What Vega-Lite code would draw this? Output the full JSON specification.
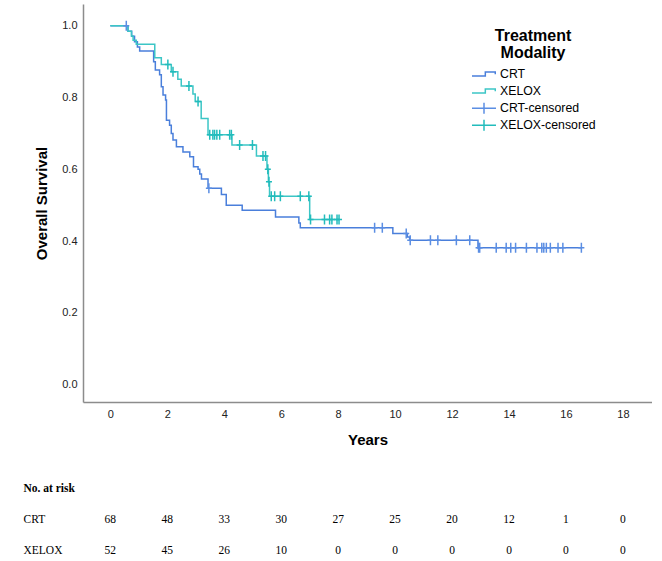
{
  "$schema": "https://vega.github.io/schema/vega-lite/v6.json",
  "padding": {"left": 23, "top": 4, "right": 0, "bottom": 0},
  "background": "white",
  "config": {
    "view": {"stroke": null},
    "font": "Liberation Sans"
  },
  "datasets": {
    "curve": [
      {"g": "CRT", "t": 0, "s": 1},
      {"g": "CRT", "t": 0.62, "s": 0.985},
      {"g": "CRT", "t": 0.75, "s": 0.971},
      {"g": "CRT", "t": 0.85, "s": 0.956},
      {"g": "CRT", "t": 0.95, "s": 0.941},
      {"g": "CRT", "t": 1.03, "s": 0.93},
      {"g": "CRT", "t": 1.52, "s": 0.9},
      {"g": "CRT", "t": 1.58, "s": 0.877},
      {"g": "CRT", "t": 1.73, "s": 0.864},
      {"g": "CRT", "t": 1.79, "s": 0.83},
      {"g": "CRT", "t": 1.85, "s": 0.807},
      {"g": "CRT", "t": 1.94, "s": 0.793},
      {"g": "CRT", "t": 1.97, "s": 0.737},
      {"g": "CRT", "t": 2.08, "s": 0.723},
      {"g": "CRT", "t": 2.14, "s": 0.7},
      {"g": "CRT", "t": 2.2, "s": 0.682},
      {"g": "CRT", "t": 2.32, "s": 0.663},
      {"g": "CRT", "t": 2.55, "s": 0.648},
      {"g": "CRT", "t": 2.79, "s": 0.635},
      {"g": "CRT", "t": 2.92, "s": 0.607},
      {"g": "CRT", "t": 3.08, "s": 0.6},
      {"g": "CRT", "t": 3.14, "s": 0.587},
      {"g": "CRT", "t": 3.2, "s": 0.573},
      {"g": "CRT", "t": 3.43, "s": 0.547},
      {"g": "CRT", "t": 3.9, "s": 0.53},
      {"g": "CRT", "t": 4.07, "s": 0.5},
      {"g": "CRT", "t": 4.63, "s": 0.486},
      {"g": "CRT", "t": 5.8, "s": 0.467},
      {"g": "CRT", "t": 6.62, "s": 0.45},
      {"g": "CRT", "t": 6.67, "s": 0.437},
      {"g": "CRT", "t": 9.92, "s": 0.421},
      {"g": "CRT", "t": 10.43, "s": 0.411},
      {"g": "CRT", "t": 10.51, "s": 0.402},
      {"g": "CRT", "t": 12.91, "s": 0.381},
      {"g": "CRT", "t": 16.54, "s": 0.381},
      {"g": "XELOX", "t": 0, "s": 1},
      {"g": "XELOX", "t": 0.62, "s": 0.985},
      {"g": "XELOX", "t": 0.74, "s": 0.972},
      {"g": "XELOX", "t": 0.8, "s": 0.96},
      {"g": "XELOX", "t": 0.91, "s": 0.949},
      {"g": "XELOX", "t": 1.56, "s": 0.911},
      {"g": "XELOX", "t": 1.79, "s": 0.892},
      {"g": "XELOX", "t": 2.14, "s": 0.872},
      {"g": "XELOX", "t": 2.37, "s": 0.851},
      {"g": "XELOX", "t": 2.49, "s": 0.832},
      {"g": "XELOX", "t": 2.9, "s": 0.81},
      {"g": "XELOX", "t": 2.98, "s": 0.789},
      {"g": "XELOX", "t": 3.19, "s": 0.742},
      {"g": "XELOX", "t": 3.43, "s": 0.696},
      {"g": "XELOX", "t": 4.27, "s": 0.668},
      {"g": "XELOX", "t": 5.13, "s": 0.637},
      {"g": "XELOX", "t": 5.5, "s": 0.6},
      {"g": "XELOX", "t": 5.55, "s": 0.565},
      {"g": "XELOX", "t": 5.59, "s": 0.525},
      {"g": "XELOX", "t": 7.0, "s": 0.46},
      {"g": "XELOX", "t": 8.03, "s": 0.46}
    ],
    "censor": [
      {"g": "CRT-censored", "t": 0.56, "s": 1},
      {"g": "CRT-censored", "t": 3.46, "s": 0.547},
      {"g": "CRT-censored", "t": 9.28, "s": 0.437},
      {"g": "CRT-censored", "t": 9.55, "s": 0.437},
      {"g": "CRT-censored", "t": 10.39, "s": 0.421},
      {"g": "CRT-censored", "t": 10.53, "s": 0.402},
      {"g": "CRT-censored", "t": 11.24, "s": 0.402},
      {"g": "CRT-censored", "t": 11.5, "s": 0.402},
      {"g": "CRT-censored", "t": 12.15, "s": 0.402},
      {"g": "CRT-censored", "t": 12.62, "s": 0.402},
      {"g": "CRT-censored", "t": 12.93, "s": 0.381},
      {"g": "CRT-censored", "t": 12.97, "s": 0.381},
      {"g": "CRT-censored", "t": 13.55, "s": 0.381},
      {"g": "CRT-censored", "t": 13.9, "s": 0.381},
      {"g": "CRT-censored", "t": 14.06, "s": 0.381},
      {"g": "CRT-censored", "t": 14.23, "s": 0.381},
      {"g": "CRT-censored", "t": 14.61, "s": 0.381},
      {"g": "CRT-censored", "t": 14.98, "s": 0.381},
      {"g": "CRT-censored", "t": 15.15, "s": 0.381},
      {"g": "CRT-censored", "t": 15.22, "s": 0.381},
      {"g": "CRT-censored", "t": 15.31, "s": 0.381},
      {"g": "CRT-censored", "t": 15.45, "s": 0.381},
      {"g": "CRT-censored", "t": 15.72, "s": 0.381},
      {"g": "CRT-censored", "t": 15.89, "s": 0.381},
      {"g": "CRT-censored", "t": 16.54, "s": 0.381},
      {"g": "XELOX-censored", "t": 2.02, "s": 0.892},
      {"g": "XELOX-censored", "t": 2.2, "s": 0.872},
      {"g": "XELOX-censored", "t": 2.76, "s": 0.832},
      {"g": "XELOX-censored", "t": 3.08, "s": 0.789},
      {"g": "XELOX-censored", "t": 3.49, "s": 0.696},
      {"g": "XELOX-censored", "t": 3.6, "s": 0.696},
      {"g": "XELOX-censored", "t": 3.66, "s": 0.696},
      {"g": "XELOX-censored", "t": 3.74, "s": 0.696},
      {"g": "XELOX-censored", "t": 3.84, "s": 0.696},
      {"g": "XELOX-censored", "t": 4.19, "s": 0.696},
      {"g": "XELOX-censored", "t": 4.25, "s": 0.696},
      {"g": "XELOX-censored", "t": 4.54, "s": 0.668},
      {"g": "XELOX-censored", "t": 4.99, "s": 0.668},
      {"g": "XELOX-censored", "t": 5.36, "s": 0.637},
      {"g": "XELOX-censored", "t": 5.45, "s": 0.637},
      {"g": "XELOX-censored", "t": 5.53, "s": 0.6},
      {"g": "XELOX-censored", "t": 5.57, "s": 0.565},
      {"g": "XELOX-censored", "t": 5.65, "s": 0.525},
      {"g": "XELOX-censored", "t": 5.77, "s": 0.525},
      {"g": "XELOX-censored", "t": 5.97, "s": 0.525},
      {"g": "XELOX-censored", "t": 6.67, "s": 0.525},
      {"g": "XELOX-censored", "t": 6.97, "s": 0.525},
      {"g": "XELOX-censored", "t": 7.03, "s": 0.46},
      {"g": "XELOX-censored", "t": 7.52, "s": 0.46},
      {"g": "XELOX-censored", "t": 7.7, "s": 0.46},
      {"g": "XELOX-censored", "t": 7.78, "s": 0.46},
      {"g": "XELOX-censored", "t": 7.96, "s": 0.46},
      {"g": "XELOX-censored", "t": 8.03, "s": 0.46}
    ],
    "risk": [
      {"row": "CRT", "t": 0, "n": "68"},
      {"row": "CRT", "t": 2, "n": "48"},
      {"row": "CRT", "t": 4, "n": "33"},
      {"row": "CRT", "t": 6, "n": "30"},
      {"row": "CRT", "t": 8, "n": "27"},
      {"row": "CRT", "t": 10, "n": "25"},
      {"row": "CRT", "t": 12, "n": "20"},
      {"row": "CRT", "t": 14, "n": "12"},
      {"row": "CRT", "t": 16, "n": "1"},
      {"row": "CRT", "t": 18, "n": "0"},
      {"row": "XELOX", "t": 0, "n": "52"},
      {"row": "XELOX", "t": 2, "n": "45"},
      {"row": "XELOX", "t": 4, "n": "26"},
      {"row": "XELOX", "t": 6, "n": "10"},
      {"row": "XELOX", "t": 8, "n": "0"},
      {"row": "XELOX", "t": 10, "n": "0"},
      {"row": "XELOX", "t": 12, "n": "0"},
      {"row": "XELOX", "t": 14, "n": "0"},
      {"row": "XELOX", "t": 16, "n": "0"},
      {"row": "XELOX", "t": 18, "n": "0"}
    ]
  },
  "spacing": 26,
  "vconcat": [
    {
      "width": 569,
      "height": 398,
      "layer": [
        {
          "data": {"name": "curve"},
          "mark": {"type": "line", "interpolate": "step-after", "strokeWidth": 1.5},
          "encoding": {
            "x": {"field": "t", "type": "quantitative"},
            "y": {"field": "s", "type": "quantitative"},
            "color": {"field": "g", "type": "nominal"}
          }
        },
        {
          "data": {"name": "censor"},
          "mark": {"type": "point", "shape": "M-0.6,0H0.6M0,-1V1", "size": 100, "filled": false, "strokeWidth": 1.5, "opacity": 1},
          "encoding": {
            "x": {"field": "t", "type": "quantitative"},
            "y": {"field": "s", "type": "quantitative"},
            "color": {"field": "g", "type": "nominal"}
          }
        }
      ],
      "encoding": {
        "x": {
          "field": "t", "type": "quantitative",
          "scale": {"domain": [-0.96, 19.02], "nice": false, "zero": false},
          "axis": {
            "title": "Years", "values": [0, 2, 4, 6, 8, 10, 12, 14, 16, 18],
            "tickSize": 0, "labelPadding": 6, "grid": false,
            "domainColor": "#8c8c8c", "domainWidth": 1.5,
            "labelFont": "Liberation Sans", "labelFontSize": 11, "labelColor": "#222",
            "labelFlush": false, "labelOverlap": false,
            "titleFont": "Liberation Sans", "titleFontSize": 15, "titleFontWeight": "bold",
            "titleColor": "#000", "titlePadding": 13
          }
        },
        "y": {
          "field": "s", "type": "quantitative",
          "scale": {"domain": [-0.049, 1.061], "nice": false, "zero": false},
          "axis": {
            "title": "Overall Survival", "values": [0, 0.2, 0.4, 0.6, 0.8, 1.0], "format": ".1f",
            "tickSize": 0, "labelPadding": 6, "grid": false,
            "domainColor": "#8c8c8c", "domainWidth": 1.5,
            "labelFont": "Liberation Sans", "labelFontSize": 11, "labelColor": "#222",
            "labelFlush": false, "labelOverlap": false,
            "titleFont": "Liberation Sans", "titleFontSize": 15, "titleFontWeight": "bold",
            "titleColor": "#000", "titlePadding": 12
          }
        },
        "color": {
          "field": "g", "type": "nominal",
          "scale": {
            "domain": ["CRT", "XELOX", "CRT-censored", "XELOX-censored"],
            "range": ["#4a7fdb", "#3cc6c6", "#5b8ee3", "#22bcbc"]
          },
          "legend": {
            "title": ["Treatment", "Modality"],
            "orient": "none", "legendX": 388, "legendY": 24,
            "padding": 0,
            "titleFont": "Liberation Sans", "titleFontSize": 16, "titleFontWeight": "bold",
            "titleColor": "#000", "titleAnchor": "middle", "titleAlign": "center", "titleLineHeight": 16.7, "titlePadding": 5,
            "labelFont": "Liberation Sans", "labelFontSize": 12.3, "labelColor": "#000", "labelOffset": 3,
            "symbolSize": 576, "symbolStrokeWidth": 1.5, "clipHeight": 17, "rowPadding": 0,
            "encode": {
              "symbols": {
                "update": {
                  "shape": {"signal": "(datum.value === 'CRT' || datum.value === 'XELOX') ? 'M-1,0.14H0.11V-0.19H0.94V0' : 'M-1,0H1M0,-0.46V0.46'"},
                  "fill": {"value": "transparent"},
                  "stroke": {"scale": "color", "field": "value"},
                  "strokeWidth": {"value": 1.5},
                  "opacity": {"value": 1}
                }
              }
            }
          }
        }
      }
    },
    {
      "width": 569,
      "height": 93,
      "data": {"name": "risk"},
      "mark": {"type": "text", "font": "Liberation Serif", "fontSize": 11.5, "color": "#000", "align": "center", "baseline": "middle"},
      "encoding": {
        "x": {
          "field": "t", "type": "quantitative",
          "scale": {"domain": [-0.96, 19.02], "nice": false, "zero": false},
          "axis": null
        },
        "y": {
          "field": "row", "type": "ordinal",
          "scale": {"type": "point", "domain": ["No. at risk", "CRT", "XELOX"], "padding": 0.5},
          "axis": {
            "title": null, "domain": false, "ticks": false,
            "labelAlign": "left", "labelPadding": 60,
            "labelFont": "Liberation Serif", "labelFontSize": 11.5, "labelColor": "#000",
            "labelFontWeight": {"condition": {"test": "datum.value === 'No. at risk'", "value": "bold"}, "value": "normal"}
          }
        },
        "text": {"field": "n", "type": "nominal"}
      }
    }
  ]
}
